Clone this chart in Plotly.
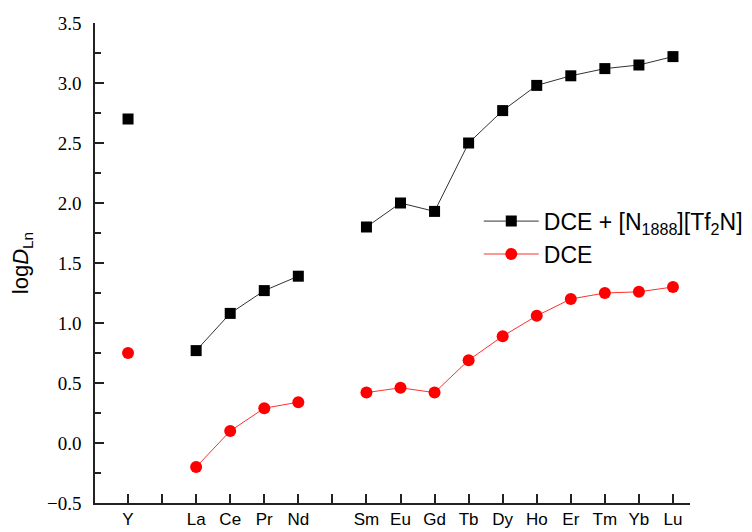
import plotly.graph_objects as go

categories = ["Y", "", "La", "Ce", "Pr", "Nd", "", "Sm", "Eu", "Gd", "Tb", "Dy", "Ho", "Er", "Tm", "Yb", "Lu"]
il_values = [2.70, None, 0.77, 1.08, 1.27, 1.39, None, 1.80, 2.00, 1.93, 2.50, 2.77, 2.98, 3.06, 3.12, 3.15, 3.22]
dce_values = [0.75, None, -0.20, 0.10, 0.29, 0.34, None, 0.42, 0.46, 0.42, 0.69, 0.89, 1.06, 1.20, 1.25, 1.26, 1.30]
y_ticks = [-0.5, 0.0, 0.5, 1.0, 1.5, 2.0, 2.5, 3.0, 3.5]
y_tick_labels = ["\u22120.5", "0.0", "0.5", "1.0", "1.5", "2.0", "2.5", "3.0", "3.5"]

xpos = list(range(len(categories)))

fig = go.Figure()
fig.add_trace(go.Scatter(
    x=xpos, y=il_values, mode="lines+markers",
    name="DCE + [N<sub>1888</sub>][Tf<sub>2</sub>N]",
    line=dict(color="#333333", width=1),
    marker=dict(symbol="square", size=11, color="black"),
    connectgaps=False,
))
fig.add_trace(go.Scatter(
    x=xpos, y=dce_values, mode="lines+markers",
    name="DCE",
    line=dict(color="#ff3030", width=1),
    marker=dict(symbol="circle", size=12, color="#ff0000"),
    connectgaps=False,
))

fig.update_layout(
    width=752, height=532,
    margin=dict(l=95, r=62, t=23, b=29, autoexpand=False),
    plot_bgcolor="white", paper_bgcolor="white",
    showlegend=True,
    legend=dict(
        x=0.645, y=0.632, xanchor="left", yanchor="top",
        font=dict(family="Liberation Sans, Arial", size=23, color="black"),
        bgcolor="rgba(0,0,0,0)", itemwidth=55,
    ),
    xaxis=dict(
        range=[-0.97, 16.5], tickmode="array", tickvals=xpos, ticktext=categories,
        ticks="inside", ticklen=9, tickwidth=1.5, tickcolor="#222",
        showline=True, linecolor="#222", linewidth=1.5, showgrid=False, zeroline=False,
        tickfont=dict(family="Liberation Sans", size=17, color="black"),
        ticklabelstandoff=0, automargin=False,
    ),
    yaxis=dict(
        range=[-0.5, 3.5], tickmode="array", tickvals=y_ticks, ticktext=y_tick_labels,
        ticks="inside", ticklen=9, tickwidth=1.5, tickcolor="#222",
        minor=dict(dtick=0.25, tick0=0, ticks="inside", ticklen=6, tickwidth=1.5, tickcolor="#222"),
        showline=True, linecolor="#222", linewidth=1.5, showgrid=False, zeroline=False,
        tickfont=dict(family="Times New Roman, Liberation Serif, DejaVu Serif, serif", size=19, color="black"),
        ticklabelstandoff=8, automargin=False,
        title=dict(text="log<i>D</i><sub>Ln</sub>", font=dict(family="Liberation Sans", size=22, color="black"), standoff=12),
    ),
)

fig.write_html("out.html")
